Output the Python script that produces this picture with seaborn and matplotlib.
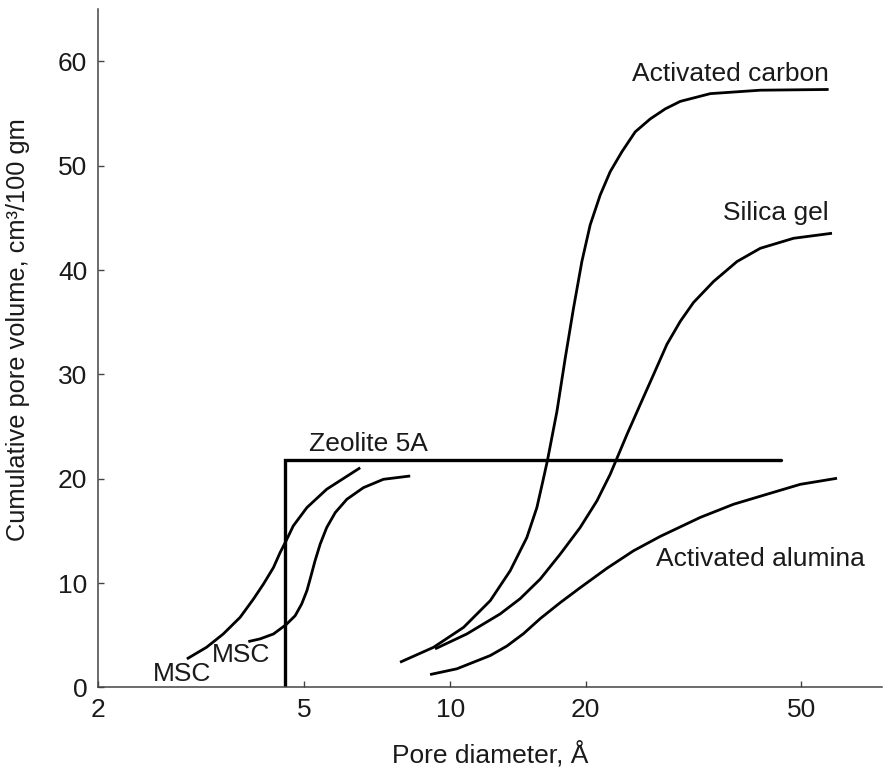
import matplotlib
matplotlib.use('Agg')
import numpy as np
import matplotlib.pyplot as plt
import seaborn as sns

# pore size distributions (x = pore diameter in A, y = cm3/100 gm)
msc1_x = [2.97, 3.24, 3.49, 3.76, 3.99, 4.17, 4.36, 4.49, 4.61, 4.76, 5.06, 5.56, 6.52]
msc1_y = [2.74, 3.85, 5.13, 6.72, 8.48, 9.91, 11.50, 12.93, 14.05, 15.49, 17.24, 19.00, 21.06]

msc2_x = [3.90, 4.11, 4.36, 4.61, 4.80, 4.94, 5.06, 5.15, 5.26, 5.39, 5.56, 5.79, 6.12,
          6.62, 7.28, 8.27]
msc2_y = [4.40, 4.66, 5.13, 6.02, 6.88, 8.00, 9.27, 10.55, 12.14, 13.74, 15.33, 16.76,
          18.04, 19.15, 19.95, 20.27]

zeolite_x = [4.59, 4.59, 45.9]
zeolite_y = [0.0, 21.8, 21.8]

carbon_x = [7.88, 9.24, 10.71, 12.28, 13.60, 14.81, 15.59, 16.08, 16.46, 17.28, 18.03,
            18.81, 19.63, 20.40, 21.29, 22.21, 23.34, 24.70, 26.33, 28.06, 29.91, 33.97,
            42.01, 56.15]
carbon_y = [2.42, 3.85, 5.76, 8.32, 11.19, 14.37, 17.24, 19.79, 21.77, 26.48, 31.58,
            36.36, 40.82, 44.33, 47.20, 49.43, 51.34, 53.25, 54.49, 55.45, 56.17, 56.91,
            57.24, 57.31]

silica_x = [9.31, 10.89, 12.92, 14.31, 15.86, 17.57, 19.46, 20.99, 22.21, 23.85, 25.23,
            26.70, 28.26, 29.91, 31.64, 34.45, 38.05, 42.01, 48.39, 56.96]
silica_y = [3.70, 5.13, 7.05, 8.51, 10.39, 12.78, 15.33, 17.88, 20.43, 24.25, 27.12,
            29.99, 32.89, 35.09, 36.90, 38.91, 40.82, 42.09, 43.05, 43.53]

alumina_x = [9.09, 10.35, 12.28, 13.37, 14.56, 15.86, 17.57, 19.46, 21.90, 24.52, 27.47,
             32.56, 37.50, 43.22, 49.79, 58.19]
alumina_y = [1.24, 1.79, 3.06, 3.97, 5.16, 6.60, 8.13, 9.56, 11.42, 13.10, 14.48,
             16.30, 17.56, 18.52, 19.47, 20.05]

x_ticks = [2, 5, 10, 20, 50]
y_ticks = [0, 10, 20, 30, 40, 50, 60]

# the printed log axis is not quite uniform: tick spacing as measured on the original
axis_log = [-1.0, np.log10(2), np.log10(5), 1.0, np.log10(20), np.log10(50), 3.0]
axis_pos = [-675.5, 0.0, 206.6, 352.3, 487.6, 703.3, 1408.5]


def fwd(x):
    x = np.clip(np.asarray(x, dtype=float), 1e-3, None)
    return np.interp(np.log10(x), axis_log, axis_pos)


def inv(p):
    return 10 ** np.interp(p, axis_pos, axis_log)


sns.set_theme(style="ticks")
plt.rcParams['font.family'] = ['Liberation Sans', 'DejaVu Sans']
plt.rcParams['font.size'] = 19

fig = plt.figure(figsize=(8.84, 7.69), dpi=100)
ax = fig.add_axes([0.1105, 0.106, 0.8875, 0.882])

curves = [(msc1_x, msc1_y), (msc2_x, msc2_y), (carbon_x, carbon_y),
          (silica_x, silica_y), (alumina_x, alumina_y)]
for cx, cy in curves:
    sns.lineplot(x=cx, y=cy, ax=ax, color='black', linewidth=2.0,
                 estimator=None, sort=False, solid_joinstyle='round',
                 solid_capstyle='butt')
sns.lineplot(x=zeolite_x, y=zeolite_y, ax=ax, color='black', linewidth=2.4,
             estimator=None, sort=False, solid_joinstyle='miter')

ax.set_xscale('function', functions=(fwd, inv))
ax.set_xlim(2, 70.5)
ax.set_ylim(0, 65)
ax.set_xticks(x_ticks)
ax.set_xticklabels([str(t) for t in x_ticks])
ax.minorticks_off()
ax.set_yticks(y_ticks)
ax.tick_params(direction='in', length=4.5, width=1.0, color='#444444',
               labelsize=19, labelcolor='#1a1a1a', pad=7.5)

for side in ['top', 'right']:
    ax.spines[side].set_visible(False)
for side in ['left', 'bottom']:
    ax.spines[side].set_linewidth(1.1)
    ax.spines[side].set_color('#444444')

txt = dict(fontsize=19, color='#1a1a1a', va='baseline')
ax.text(56.1, 58.1, 'Activated carbon', ha='right', **txt)
ax.text(56.1, 44.8, 'Silica gel', ha='right', **txt)
ax.text(27.0, 11.66, 'Activated alumina', ha='left', **txt)
ax.text(5.10, 22.66, 'Zeolite 5A', ha='left', **txt)
ax.text(2.91, 1.34, 'MSC', ha='center', va='center', fontsize=19, color='#1a1a1a')
ax.text(3.77, 3.11, 'MSC', ha='center', va='center', fontsize=19, color='#1a1a1a')

ax.set_xlabel('Pore diameter, Å', fontsize=19, color='#1a1a1a', labelpad=14)
ax.set_ylabel('Cumulative pore volume, cm³/100 gm', fontsize=18.3, color='#1a1a1a')
ax.yaxis.set_label_coords(-0.086, 0.528)

fig.savefig('out.png', dpi=100)
